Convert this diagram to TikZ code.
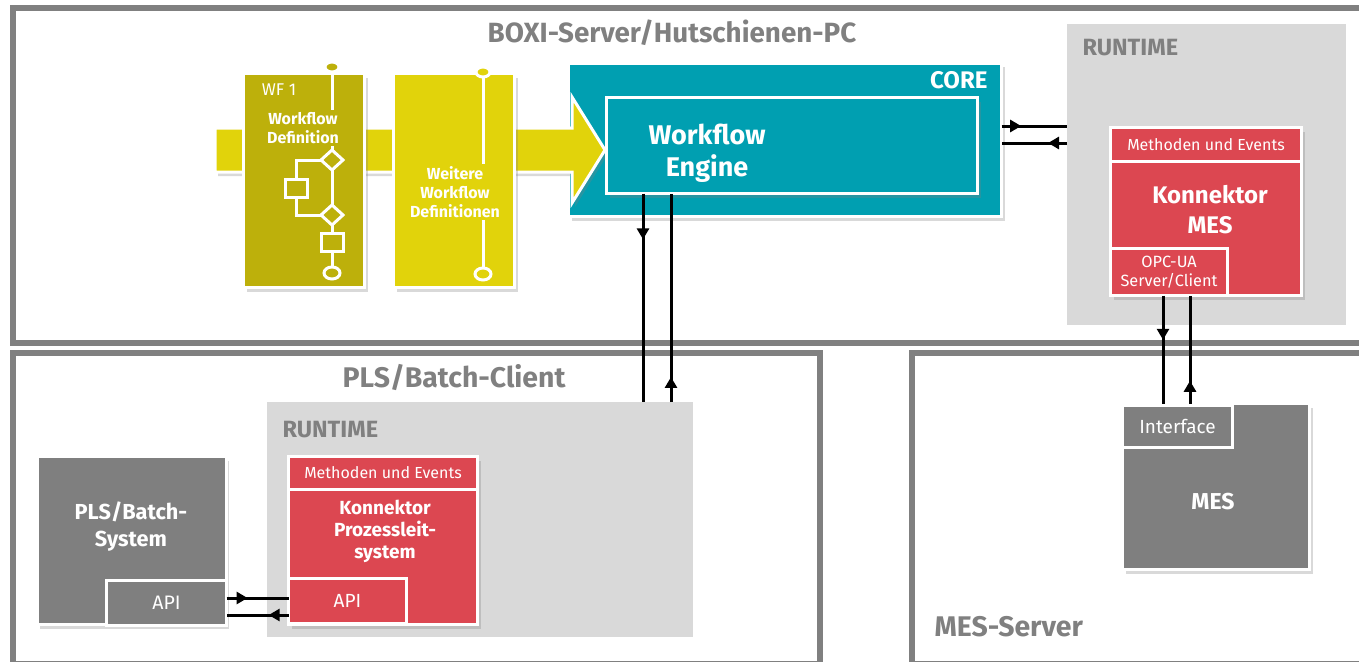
\documentclass[tikz,border=0pt]{standalone}
\usepackage{fontspec}
\setmainfont{Fira Sans}
\usetikzlibrary{arrows.meta,shapes.geometric,shadows,decorations.markings}

\definecolor{framegray}{HTML}{808080}
\definecolor{rtgray}{HTML}{D9D9D9}
\definecolor{konred}{HTML}{DC4751}
\definecolor{coreteal}{HTML}{009FB1}
\definecolor{wfyellow}{HTML}{E1D30B}
\definecolor{wfolive}{HTML}{BDB00B}
\definecolor{boxgray}{HTML}{7F7F7F}

\tikzset{
  sz/.style 2 args={minimum width=#1pt,minimum height=#2pt,inner sep=0pt,outer sep=0pt},
  frame/.style={draw=framegray,line width=6pt},
  runtime/.style={fill=rtgray},
  box/.style={draw=white,line width=3pt,text=white,align=center},
  shade/.style={drop shadow={shadow xshift=3pt,shadow yshift=-4pt,opacity=0.3}},
  title/.style={text=framegray,font=\bfseries\fontsize{28.4}{32}\selectfont},
  rtlabel/.style={text=framegray,anchor=west,font=\bfseries\fontsize{23.5}{27}\selectfont},
  wfnode/.style={draw=white,line width=3pt,fill=wfolive,inner sep=0pt},
  wfline/.style={draw=white,line width=3pt},
  wftxt/.style={text=white,align=center,inner sep=2pt,font=\bfseries\fontsize{16}{19}\selectfont},
  flowline/.style={line width=3pt,decoration={markings,mark=at position #1 with {\arrow{Triangle[length=11pt,width=12pt]}}},postaction=decorate},
}

\begin{document}
\begin{tikzpicture}[x=1pt,y=-1pt]
\useasboundingbox (0,0) rectangle (1359,661);
\clip (0,0) rectangle (1359,661);

\coordinate (L1) at (643,0);
\coordinate (R1) at (671,0);
\coordinate (L2) at (1163,0);
\coordinate (R2) at (1190,0);
\coordinate (T1) at (0,126);
\coordinate (T2) at (0,143);
\coordinate (A1) at (0,598);
\coordinate (A2) at (0,615);

\node[frame,sz={1359}{335}] (boxi) at (692.5,175.5) {};
\node[frame,sz={807}{311}] (pls) at (416.5,508.5) {};
\node[frame,sz={460}{311}] (messrv) at (1142,508.5) {};
\node[title,font=\bfseries\fontsize{27.8}{32}\selectfont] (boxiT) at (672,33) {BOXI-Server/Hutschienen-PC};
\node[title] (plsT) at (454,377) {PLS/Batch-Client};
\node[title,anchor=west] (messrvT) at (931,627) {MES-Server};

\node[runtime,sz={279}{301}] (rtTop) at (1206.5,174.5) {};
\node[runtime,sz={426}{235}] (rtBot) at (480,519.5) {};
\node[rtlabel] (rtTopT) at (1079,48) {RUNTIME};
\node[rtlabel] (rtBotT) at (279,430) {RUNTIME};

\node[box,shade,fill=coreteal,sz={433}{153}] (core) at (785,140) {};
\node[anchor=east,text=white,font=\bfseries\fontsize{24}{27}\selectfont] (coreT) at (991,80) {CORE};

\path[draw=white,line width=3pt,fill=wfyellow,shade] (215,128) -- (572,128) -- (572,97) -- (605,150) -- (572,203) -- (572,172) -- (215,172) -- cycle;

\node[box,shade,fill=wfolive,sz={121}{214}] (wf1) at (304,180.5) {};
\node[wfnode,ellipse,sz={14}{10}] (wfA) at (332,67) {};
\node[wfnode,diamond,sz={22}{20}] (wfB) at (332,160) {};
\node[wfnode,sz={22}{18}] (wfC) at (296,188) {};
\node[wfnode,diamond,sz={22}{20}] (wfD) at (332,215) {};
\node[wfnode,sz={22}{18}] (wfE) at (332,242) {};
\node[wfnode,ellipse,sz={16}{12}] (wfF) at (332,273) {};
\draw[wfline] (wfA) -- (wfB);
\draw[wfline] (wfB) -- (wfD);
\draw[wfline] (wfB.west) -| (wfC);
\draw[wfline] (wfC) |- (wfD.west);
\draw[wfline] (wfD) -- (wfE);
\draw[wfline] (wfE) -- (wfF);
\node[text=white,font=\fontsize{17}{19}\selectfont] (wf1T) at (279,90) {WF 1};
\node[wftxt,fill=wfolive] (wf1D) at (303,128) {Workflow\\Definition};

\node[box,shade,fill=wfyellow,sz={121}{214}] (wf2) at (454,180.5) {};
\node[wfnode,fill=wfyellow,ellipse,sz={14}{10}] (wf2A) at (483,72) {};
\node[wfnode,fill=wfyellow,ellipse,sz={16}{12}] (wf2B) at (483,274) {};
\draw[wfline] (wf2A) -- (wf2B);
\node[wftxt,fill=wfyellow] (wf2T) at (455,192) {Weitere\\Workflow\\Definitionen};

\node[box,shade,fill=coreteal,sz={371}{96}] (engine) at (792,145.5) {};
\node[text=white,align=center,font=\bfseries\fontsize{27}{32}\selectfont] (engineT) at (707,153) {Workflow\\Engine};

\node[box,shade,fill=konred,sz={191}{168}] (kmes) at (1206,211.5) {};
\node[box,fill=konred,sz={191}{34},font=\fontsize{16}{19}\selectfont] (kmesHead) at (1206,144.5) {Methoden und Events};
\node[box,fill=konred,sz={117}{47},font=\fontsize{16.3}{19}\selectfont] (kmesOpc) at (1169,272) {OPC-UA\\Server/Client};
\node[text=white,align=center,font=\bfseries\fontsize{24}{30}\selectfont] (kmesT) at (1210,210) {Konnektor\\MES};

\node[box,shade,fill=boxgray,sz={187}{166}] (mes) at (1216,486.5) {};
\node[box,fill=boxgray,sz={110}{42},font=\fontsize{19}{22}\selectfont] (mesIf) at (1177.5,426) {Interface};
\node[text=white,font=\bfseries\fontsize{23}{26}\selectfont] (mesT) at (1213,502) {MES};

\node[box,shade,fill=boxgray,sz={189}{168}] (plssys) at (131.5,540.5) {};
\node[box,fill=boxgray,sz={120}{45},font=\fontsize{19.5}{22}\selectfont] (plsApi) at (166.5,603) {API};
\node[text=white,align=center,font=\bfseries\fontsize{21.7}{27}\selectfont] (plssysT) at (131,527) {PLS/Batch-\\System};

\node[box,shade,fill=konred,sz={189}{168}] (kpls) at (383,540.5) {};
\node[box,fill=konred,sz={189}{33},font=\fontsize{16}{19}\selectfont] (kplsHead) at (383,473) {Methoden und Events};
\node[box,fill=konred,sz={118}{45},font=\fontsize{19}{22}\selectfont] (kplsApi) at (347.5,601) {API};
\node[text=white,align=center,font=\bfseries\fontsize{19}{22}\selectfont] (kplsT) at (385,531) {Konnektor\\Prozessleit-\\system};

\draw[flowline=0.3] (core.east |- T1) -- (rtTop.west |- T1);
\draw[flowline=0.29] (rtTop.west |- T2) -- (core.east |- T2);
\draw[flowline=0.22] (engine.south -| L1) -- (rtBot.north -| L1);
\draw[flowline=0.12] (rtBot.north -| R1) -- (engine.south -| R1);
\draw[flowline=0.41] (kmes.south -| L2) -- (mes.north -| L2);
\draw[flowline=0.21] (mes.north -| R2) -- (kmes.south -| R2);
\draw[flowline=0.34] (plsApi.east |- A1) -- (kplsApi.west |- A1);
\draw[flowline=0.32] (kplsApi.west |- A2) -- (plsApi.east |- A2);

\end{tikzpicture}
\end{document}
